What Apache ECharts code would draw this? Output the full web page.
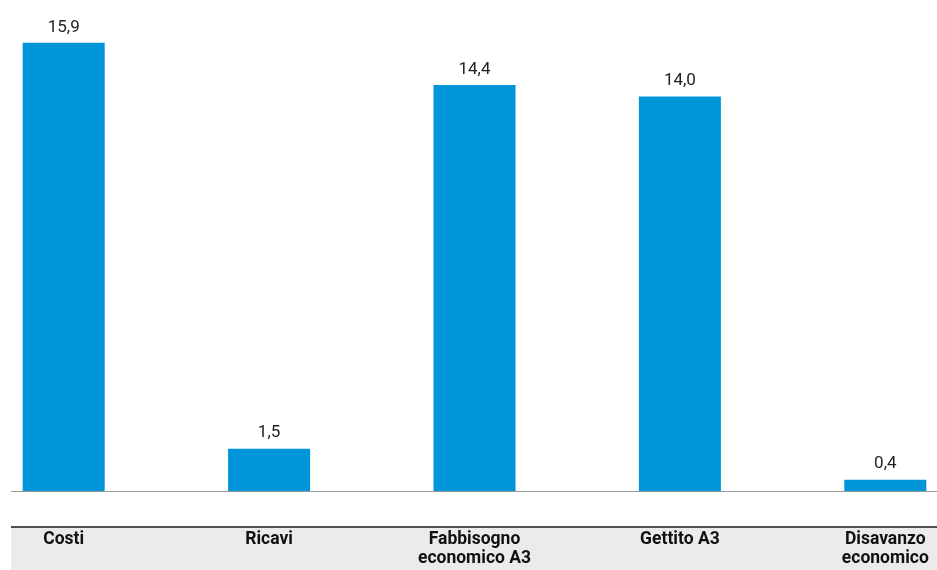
<!DOCTYPE html>
<html>
<head>
<meta charset="utf-8">
<script src="https://cdn.jsdelivr.net/npm/echarts@6/dist/echarts.min.js"></script>
<style>
html,body{margin:0;padding:0;background:#fff;}
#c{width:937px;height:570px;}
</style>
</head>
<body>
<div id="c"></div>
<script>
var categories = ['Costi', 'Ricavi', 'Fabbisogno\neconomico A3', 'Gettito A3', 'Disavanzo\neconomico'];
var values = [15.9, 1.5, 14.4, 14.0, 0.4];

var chart = echarts.init(document.getElementById('c'), null, {renderer: 'canvas'});
chart.setOption({
  animation: false,
  backgroundColor: '#ffffff',
  grid: {left: -39, right: -51, top: 40, bottom: 79, containLabel: false, outerBoundsMode: 'none'},
  graphic: [
    {type: 'rect', z: -1, shape: {x: 11, y: 527, width: 926, height: 43}, style: {fill: '#ebebeb'}},
    {type: 'line', shape: {x1: 11, y1: 527, x2: 937, y2: 527}, style: {stroke: '#1a1a1a', lineWidth: 1.5}},
    {type: 'line', shape: {x1: 11, y1: 491.5, x2: 937, y2: 491.5}, style: {stroke: '#9a9a9a', lineWidth: 1}}
  ],
  xAxis: {
    type: 'category',
    data: categories,
    axisLine: {show: false},
    axisTick: {show: false},
    axisLabel: {
      margin: 39,
      interval: 0,
      color: '#111',
      fontFamily: 'Roboto',
      fontWeight: 'bold',
      fontSize: 17.5,
      lineHeight: 19
    }
  },
  yAxis: {
    type: 'value',
    min: 0,
    max: 16,
    show: false,
    splitLine: {show: false}
  },
  series: [{
    type: 'bar',
    data: values,
    barWidth: 82,
    itemStyle: {color: '#0094d9'},
    label: {
      show: true,
      position: 'top',
      distance: 7,
      color: '#222',
      fontFamily: 'Roboto',
      fontSize: 17,
      formatter: function (p) { return p.value.toFixed(1).replace('.', ','); }
    }
  }]
});
</script>
</body>
</html>
